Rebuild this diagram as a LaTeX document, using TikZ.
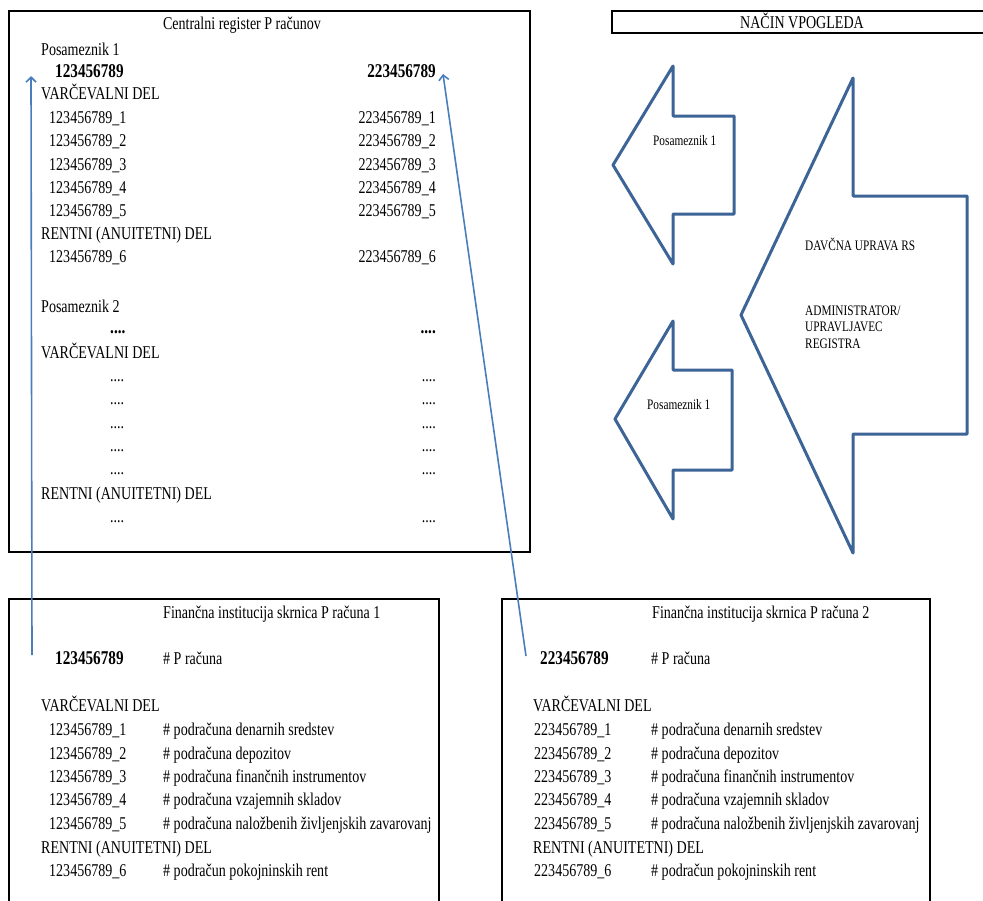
\documentclass[tikz,border=0pt]{standalone}
\usepackage{fontspec}
\setmainfont{Liberation Serif}[FakeStretch=0.78]
\usetikzlibrary{arrows.meta}
\definecolor{arrowblue}{HTML}{3C6496}
\definecolor{linkblue}{HTML}{4A7EBB}
\begin{document}
\begin{tikzpicture}[x=1pt,y=-1pt,
  txt/.style={inner sep=0pt, anchor=base west, font=\fontsize{18}{21}\selectfont},
  txtr/.style={txt, anchor=base east},
  txtc/.style={txt, anchor=base},
  btxt/.style={txt, font=\fontsize{19.5}{22}\selectfont\bfseries},
  btxtr/.style={btxt, anchor=base east},
  stxt/.style={inner sep=0pt, anchor=base west, font=\fontsize{14.5}{16.5}\selectfont},
  frame/.style={draw=black, line width=1.6pt},
  bigarrow/.style={draw=arrowblue, line width=3pt, line join=round},
  link/.style={draw=linkblue, line width=1.6pt, -{Straight Barb[length=5pt,width=10pt]}}
]
\useasboundingbox (0,0) rectangle (983,900);

% ---------- Central register box ----------
\draw[frame] (9,11) rectangle (530,552);
\node[txtc] (ctitle) at (242,29) {Centralni register P računov};
\node[txt] (cp1) at (41,55) {Posameznik 1};
\node[btxt] (cn1) at (55,77) {123456789};
\node[btxtr] (cn2) at (436,77) {223456789};
\node[txt] (cv1) at (41,99) {VARČEVALNI DEL};
\foreach \i/\y in {1/123.5,2/146.8,3/170.1,4/193.4,5/216.7,6/262}{
  \node[txt] (cl\i) at (49,\y) {123456789\_\i};
  \node[txtr] (cr\i) at (436,\y) {223456789\_\i};
}
\node[txt] (cr1d) at (41,239.5) {RENTNI (ANUITETNI) DEL};

\node[txt] (cp2) at (41,312) {Posameznik 2};
\node[btxt] (cd0l) at (110,333) {....};
\node[btxtr] (cd0r) at (436,333) {....};
\node[txt] (cv2) at (41,358) {VARČEVALNI DEL};
\foreach \i/\y in {1/381,2/404,3/428,4/451,5/474,6/522}{
  \node[txt] (cdl\i) at (110,\y) {....};
  \node[txtr] (cdr\i) at (436,\y) {....};
}
\node[txt] (cr2d) at (41,499) {RENTNI (ANUITETNI) DEL};

% ---------- Nacin vpogleda ----------
\draw[frame] (990,11) -- (612,11) -- (612,33) -- (990,33);
\node[txtc] (nacin) at (802,28) {NAČIN VPOGLEDA};

% ---------- Block arrows ----------
\draw[bigarrow] (613,165) -- (673,66) -- (673,116) -- (734,116) -- (734,214) -- (673,214) -- (673,264) -- cycle;
\node[stxt] (a1) at (653,145) {Posameznik 1};
\draw[bigarrow] (615,419) -- (673,321) -- (673,370) -- (732,370) -- (732,470) -- (673,470) -- (673,519) -- cycle;
\node[stxt] (a2) at (647,409) {Posameznik 1};
\draw[bigarrow] (741,315) -- (853,78) -- (853,196) -- (967,196) -- (967,434) -- (853,434) -- (853,553) -- cycle;
\node[stxt] (davcna) at (805,250) {DAVČNA UPRAVA RS};
\node[stxt] (admin1) at (805,315) {ADMINISTRATOR/};
\node[stxt] (admin2) at (805,331) {UPRAVLJAVEC};
\node[stxt] (admin3) at (805,348) {REGISTRA};

% ---------- Financial institution 1 ----------
\draw[frame] (9,905) -- (9,599) -- (439,599) -- (439,905);
\node[txt] (f1title) at (163,618) {Finančna institucija skrnica P računa 1};
\node[btxt] (f1num) at (55,664) {123456789};
\node[txt] (f1p) at (163,664) {\# P računa};
\node[txt] (f1v) at (41,711) {VARČEVALNI DEL};
\foreach \i/\y/\t in {1/735/podračuna denarnih sredstev,2/759/podračuna depozitov,3/782/podračuna finančnih instrumentov,4/805/podračuna vzajemnih skladov,5/829/podračuna naložbenih življenjskih zavarovanj,6/876/podračun pokojninskih rent}{
  \node[txt] (f1id\i) at (49,\y) {123456789\_\i};
  \node[txt] (f1c\i) at (163,\y) {\# \t};
}
\node[txt] (f1r) at (41,853) {RENTNI (ANUITETNI) DEL};

% ---------- Financial institution 2 ----------
\draw[frame] (502,905) -- (502,599) -- (930,599) -- (930,905);
\node[txt] (f2title) at (652,618) {Finančna institucija skrnica P računa 2};
\node[btxt] (f2num) at (540,664) {223456789};
\node[txt] (f2p) at (651,664) {\# P računa};
\node[txt] (f2v) at (533,711) {VARČEVALNI DEL};
\foreach \i/\y/\t in {1/735/podračuna denarnih sredstev,2/759/podračuna depozitov,3/782/podračuna finančnih instrumentov,4/805/podračuna vzajemnih skladov,5/829/podračuna naložbenih življenjskih zavarovanj,6/876/podračun pokojninskih rent}{
  \node[txt] (f2id\i) at (534,\y) {223456789\_\i};
  \node[txt] (f2c\i) at (651,\y) {\# \t};
}
\node[txt] (f2r) at (533,853) {RENTNI (ANUITETNI) DEL};

% ---------- Links ----------
\coordinate (l1s) at (32,655);
\coordinate (l1e) at (31,76);
\coordinate (l2s) at (526,656);
\coordinate (l2e) at (443,74);
\draw[link] (l1s) -- (l1e);
\draw[link] (l2s) -- (l2e);
\end{tikzpicture}
\end{document}
